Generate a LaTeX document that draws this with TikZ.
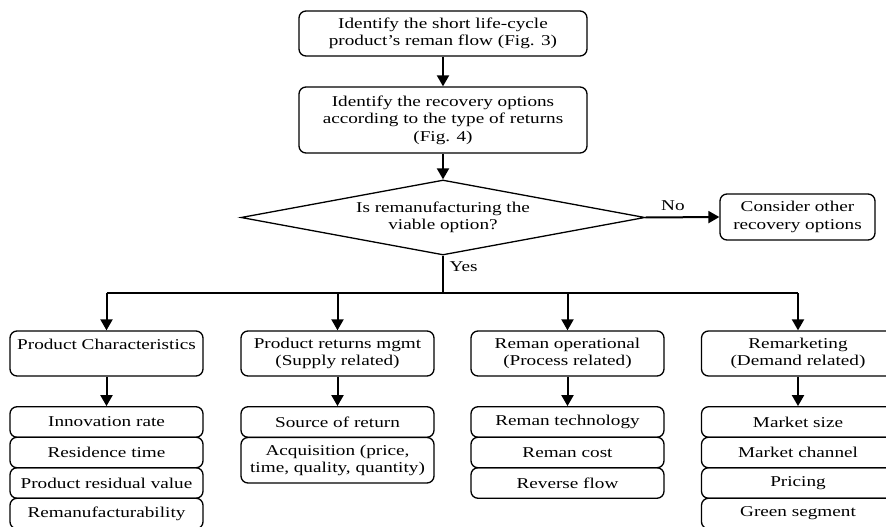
\documentclass[tikz,border=0pt]{standalone}
\usepackage{fontspec}
\setmainfont{Liberation Serif}[FakeStretch=1.28]
\usetikzlibrary{arrows.meta,shapes.geometric}
\begin{document}
\begin{tikzpicture}[x=1pt,y=-1pt,
  txt/.style={font=\fontsize{15}{17.5}\selectfont},
  box/.style={draw,rounded corners=7pt,line width=1.3pt,align=center,inner sep=0pt,txt},
  col/.style={box,minimum width=193pt,minimum height=45pt},
  sub/.style={box,minimum width=193pt,minimum height=30.5pt},
  arr/.style={-{Triangle[length=11pt,width=12pt]},line width=2pt},
  conn/.style={line width=1.8pt}]
\useasboundingbox (0,0) rectangle (886,527);
\clip (0,0) rectangle (886,527);

\node[box,minimum width=288pt,minimum height=45pt] (t1) at (443,33.5) {Identify the short life-cycle\\product’s reman flow (Fig. 3)};
\node[box,minimum width=288pt,minimum height=66pt] (t2) at (443,120) {Identify the recovery options\\according to the type of returns\\(Fig. 4)};
\node[draw,diamond,aspect=5.39,minimum width=404pt,minimum height=75pt,inner sep=0pt,line width=1.3pt,align=center,txt] (dec) at (443,217.5) {Is remanufacturing the\\viable option?};
\node[box,minimum width=155pt,minimum height=46pt] (oth) at (797.5,217) {Consider other\\recovery options};

\draw[arr] (t1) -- (t2);
\draw[arr] (t2) -- (dec);
\draw[arr] (dec.east) -- (oth.west) node[pos=0.37,above=2pt,txt] (lno) {No};

\coordinate (hub) at (443,293);
\coordinate (hl) at (106.5,293);
\coordinate (hr) at (798,293);
\draw[line width=2.6pt] (dec.south) -- (hub) node[pos=0.3,right=2pt,txt] (lyes) {Yes};
\draw[conn] (hl) -- (hr);

\node[col] (p1) at (106.5,353.5) {Product Characteristics\\\mbox{}};
\node[col] (p2) at (337.5,353.5) {Product returns mgmt\\(Supply related)};
\node[col] (p3) at (567.5,353.5) {Reman operational\\(Process related)};
\node[col] (p4) at (798,353.5) {Remarketing\\(Demand related)};

\coordinate (h2) at (337.5,293);
\coordinate (h3) at (567.5,293);
\draw[arr] (hl) -- (p1);
\draw[arr] (h2) -- (p2);
\draw[arr] (h3) -- (p3);
\draw[arr] (hr) -- (p4);

\node[sub] (a1) at (106.5,422) {Innovation rate};
\node[sub] (a2) at (106.5,452.5) {Residence time};
\node[sub] (a3) at (106.5,483) {Product residual value};
\node[sub] (a4) at (106.5,513.5) {Remanufacturability};

\node[sub] (b1) at (337.5,422) {Source of return};
\node[box,minimum width=193pt,minimum height=45.5pt] (b2) at (337.5,460.25) {Acquisition (price,\\time, quality, quantity)};

\node[sub] (c1) at (567.5,422) {Reman technology};
\node[sub] (c2) at (567.5,452.5) {Reman cost};
\node[sub] (c3) at (567.5,483) {Reverse flow};

\node[sub] (d1) at (798,422) {Market size};
\node[sub] (d2) at (798,452.5) {Market channel};
\node[sub] (d3) at (798,483) {Pricing};
\node[sub] (d4) at (798,513.5) {Green segment};

\draw[arr] (p1) -- (a1);
\draw[arr] (p2) -- (b1);
\draw[arr] (p3) -- (c1);
\draw[arr] (p4) -- (d1);
\end{tikzpicture}
\end{document}
